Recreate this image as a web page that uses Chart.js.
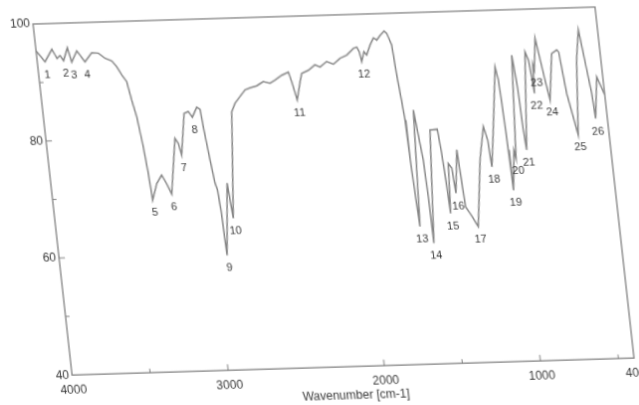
<!DOCTYPE html>
<html>
<head>
<meta charset="utf-8">
<script src="https://cdn.jsdelivr.net/npm/chart.js@4.4.1/dist/chart.umd.min.js"></script>
<style>
    html, body { margin: 0; padding: 0; background: #fff; overflow: hidden; }
    #wrap { position: relative; width: 639px; height: 405px; overflow: hidden; }
    #irChart { position: absolute; left: 0; top: 0; transform-origin: 0 0; }
</style>
</head>
<body>
<div id="wrap"><canvas id="irChart" width="639" height="420"></canvas></div>
<script>
// spectrum (wavenumber in cm-1, transmittance in %)
const wavenumbers = [
    4000, 3950, 3898, 3871, 3850, 3831, 3798, 3780, 3740, 3695,
    3646, 3604, 3565, 3524, 3496, 3470, 3443, 3424, 3404, 3383,
    3370, 3361, 3323, 3286, 3260, 3235, 3175, 3157, 3144, 3099,
    3071, 3049, 3014, 2994, 2986, 2966, 2951, 2940, 2932, 2925,
    2874, 2859, 2794, 2766, 2693, 2660, 2616, 2571, 2529, 2495,
    2448, 2404, 2389, 2367, 2336, 2320, 2275, 2229, 2198, 2152,
    2111, 2064, 2019, 1972, 1950, 1937, 1928, 1907, 1892, 1863,
    1837, 1817, 1792, 1764, 1749, 1725, 1714, 1701, 1693, 1688,
    1681, 1673, 1633, 1605, 1599, 1596, 1541, 1494, 1483, 1475,
    1468, 1448, 1429, 1420, 1384, 1376, 1368, 1344, 1327, 1301,
    1243, 1198, 1180, 1172, 1137, 1081, 1069, 1061, 1055, 1050,
    1020, 1012, 966, 952, 945, 938, 879, 863, 855, 848,
    838, 832, 805, 771, 753, 710, 675, 664, 642, 598,
    555, 523, 482, 475, 439, 400
];
const transmittance = [
    95.4, 93.5, 95.6, 94.0, 94.5, 93.6, 95.8, 93.3, 95.2, 93.3,
    94.8, 94.7, 93.8, 93.3, 92.3, 90.9, 89.7, 86.5, 83.7, 78.5,
    74.0, 69.4, 72.2, 73.6, 72.1, 70.3, 79.8, 78.9, 76.9, 84.0,
    84.3, 83.3, 85.0, 84.6, 81.6, 75.9, 72.0, 70.8, 67.3, 59.6,
    71.9, 65.9, 84.0, 85.5, 87.7, 88.0, 88.3, 89.0, 88.7, 89.2,
    90.0, 90.5, 88.8, 85.7, 88.8, 90.2, 90.7, 91.6, 91.2, 92.1,
    91.6, 92.6, 93.1, 94.2, 94.4, 93.6, 91.9, 93.6, 93.0, 94.7,
    95.9, 95.5, 96.3, 97.0, 96.6, 94.6, 89.4, 84.9, 81.7, 74.9,
    69.2, 63.5, 83.4, 74.8, 68.5, 60.6, 79.9, 80.0, 75.9, 71.3,
    65.6, 74.1, 73.3, 69.0, 76.4, 71.3, 66.6, 65.5, 64.6, 63.2,
    74.5, 80.2, 77.9, 73.3, 79.6, 90.3, 88.1, 82.4, 76.1, 69.2,
    76.0, 74.6, 92.2, 86.8, 79.4, 76.0, 92.7, 91.3, 88.7, 85.6,
    90.5, 89.6, 95.0, 87.8, 84.4, 92.3, 92.9, 92.5, 85.4, 78.3,
    91.1, 96.2, 85.3, 81.0, 88.1, 85.0
];

// numbered bands and where they sit
const peakNumbers = [
    '1', '2', '3', '4', '5', '6', '7', '8', '9', '10', '11', '12', '13',
    '14', '15', '16', '17', '18', '19', '20', '21', '22', '23', '24', '25', '26'
];
const peakPositions = [
    3950, 3831, 3780, 3695, 3361, 3235, 3144, 3049, 2925, 2859, 2367, 1928, 1673,
    1596, 1468, 1420, 1301, 1172, 1050, 1012, 938, 848, 832, 753, 598, 475
];

const xTickLabels = [4000, 3000, 2000, 1000, 400];
const xMinorTicks = [3500, 1500, 500];
const yTickLabels = [40, 60, 80, 100];
const yMinorTicks = [50, 70, 90];

// where the plot frame corners sit on the page (the scan is slightly skewed)
const frameTopLeft = [33, 24];
const frameTopRight = [595, 7];
const frameBottomLeft = [72, 375];

const lineColor = '#858585';
const textColor = '#3a3a3a';
const fontFamily = '"Liberation Sans", Arial, sans-serif';

const frameAndTicks = {
    id: 'frameAndTicks',
    afterDraw(chart) {
        const ctx = chart.ctx;
        const ca = chart.chartArea;
        const x = chart.scales.x;
        const y = chart.scales.y;
        ctx.save();
        ctx.strokeStyle = '#808080';
        ctx.lineWidth = 1.3;
        ctx.strokeRect(ca.left, ca.top, ca.right - ca.left, ca.bottom - ca.top);

        ctx.lineWidth = 1;
        ctx.beginPath();
        xTickLabels.forEach(v => {
            if (v === 400 || v === 4000) return;
            const px = x.getPixelForValue(v);
            ctx.moveTo(px, ca.bottom);
            ctx.lineTo(px, ca.bottom - 6);
        });
        xMinorTicks.forEach(v => {
            const px = x.getPixelForValue(v);
            ctx.moveTo(px, ca.bottom);
            ctx.lineTo(px, ca.bottom - 4);
        });
        yTickLabels.forEach(v => {
            if (v === 40 || v === 100) return;
            const py = y.getPixelForValue(v);
            ctx.moveTo(ca.left, py);
            ctx.lineTo(ca.left + 6, py);
        });
        yMinorTicks.forEach(v => {
            const py = y.getPixelForValue(v);
            ctx.moveTo(ca.left, py);
            ctx.lineTo(ca.left + 4, py);
        });
        ctx.stroke();
        ctx.restore();
    }
};

const peakLabels = {
    id: 'peakLabels',
    afterDatasetsDraw(chart) {
        const ctx = chart.ctx;
        const x = chart.scales.x;
        const y = chart.scales.y;
        ctx.save();
        ctx.fillStyle = textColor;
        ctx.font = '11px ' + fontFamily;
        ctx.textAlign = 'center';
        ctx.textBaseline = 'middle';
        peakPositions.forEach((wn, i) => {
            const idx = wavenumbers.indexOf(wn);
            const px = x.getPixelForValue(wn);
            const py = y.getPixelForValue(transmittance[idx]);
            ctx.fillText(peakNumbers[i], px + 1, py + 13);
        });
        ctx.restore();
    }
};

const canvas = document.getElementById('irChart');
const chart = new Chart(canvas.getContext('2d'), {
    type: 'line',
    data: {
        datasets: [{
            data: wavenumbers.map((wn, i) => ({ x: wn, y: transmittance[i] })),
            borderColor: lineColor,
            borderWidth: 1.5,
            pointRadius: 0,
            tension: 0,
            fill: false
        }]
    },
    options: {
        responsive: false,
        animation: false,
        devicePixelRatio: 1,
        layout: {
            padding: { top: 22, left: 8, right: 40, bottom: 4 }
        },
        plugins: {
            legend: { display: false },
            tooltip: { enabled: false }
        },
        scales: {
            x: {
                type: 'linear',
                reverse: true,
                min: 400,
                max: 4000,
                grid: { display: false, drawTicks: false },
                border: { display: false },
                afterBuildTicks: axis => {
                    axis.ticks = xTickLabels.map(v => ({ value: v }));
                },
                ticks: {
                    autoSkip: false,
                    maxRotation: 0,
                    padding: 8,
                    color: textColor,
                    font: { family: fontFamily, size: 12 },
                    callback: value => String(value)
                },
                title: {
                    display: true,
                    text: 'Wavenumber [cm-1]',
                    color: textColor,
                    padding: { top: -8, bottom: 2 },
                    font: { family: fontFamily, size: 12 }
                }
            },
            y: {
                min: 40,
                max: 100,
                grid: { display: false, drawTicks: false },
                border: { display: false },
                afterBuildTicks: axis => {
                    axis.ticks = yTickLabels.map(v => ({ value: v }));
                },
                ticks: {
                    padding: 3,
                    color: textColor,
                    font: { family: fontFamily, size: 12 },
                    callback: value => String(value)
                }
            }
        }
    },
    plugins: [frameAndTicks, peakLabels]
});

// skew the drawn canvas so the frame lands where it is in the scan
const ca = chart.chartArea;
const w = ca.right - ca.left;
const h = ca.bottom - ca.top;
const a = (frameTopRight[0] - frameTopLeft[0]) / w;
const b = (frameTopRight[1] - frameTopLeft[1]) / w;
const c = (frameBottomLeft[0] - frameTopLeft[0]) / h;
const d = (frameBottomLeft[1] - frameTopLeft[1]) / h;
const e = frameTopLeft[0] - a * ca.left - c * ca.top;
const f = frameTopLeft[1] - b * ca.left - d * ca.top;
canvas.style.transform = `matrix(${a}, ${b}, ${c}, ${d}, ${e}, ${f})`;
</script>
</body>
</html>
